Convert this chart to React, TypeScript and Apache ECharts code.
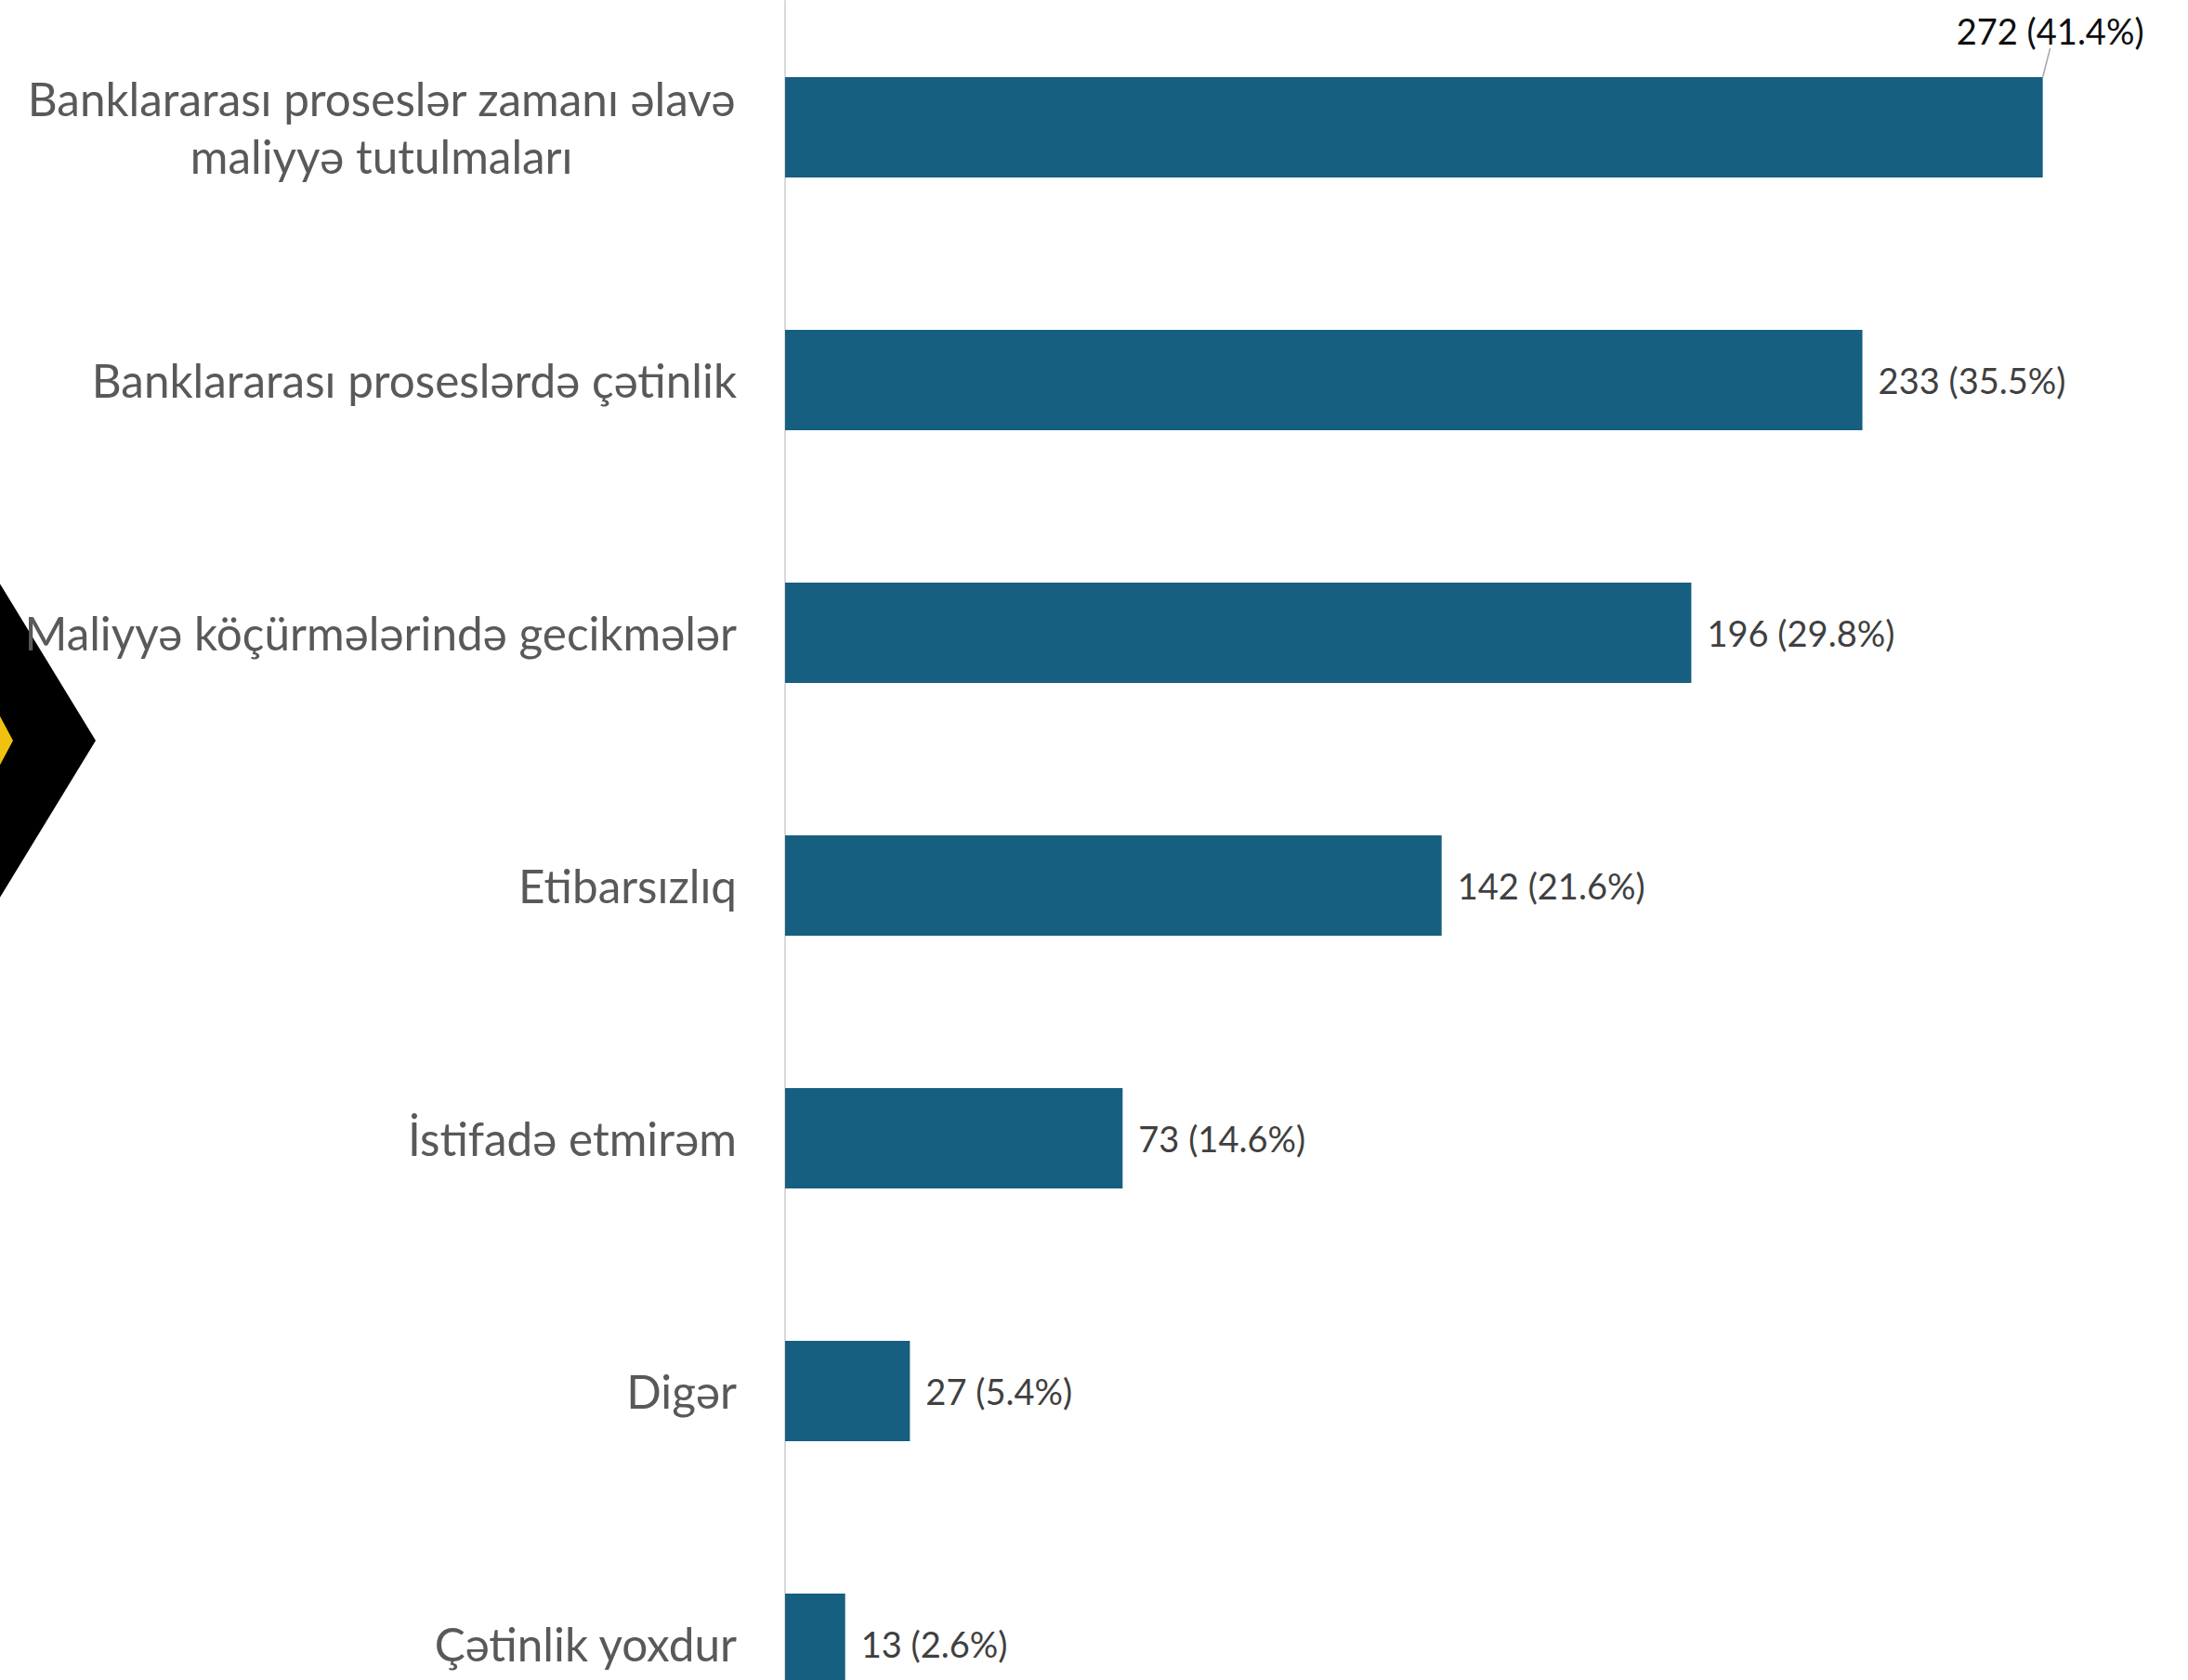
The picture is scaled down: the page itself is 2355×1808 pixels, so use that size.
import React, { useEffect, useRef } from "react";
import * as echarts from "echarts";

const categories: string[] = [
  "Banklararası proseslər zamanı əlavə\nmaliyyə tutulmaları",
  "Banklararası proseslərdə çətinlik",
  "Maliyyə köçürmələrində gecikmələr",
  "Etibarsızlıq",
  "İstifadə etmirəm",
  "Digər",
  "Çətinlik yoxdur",
];
const counts: number[] = [272, 233, 196, 142, 73, 27, 13];
const percents: number[] = [41.4, 35.5, 29.8, 21.6, 14.6, 5.4, 2.6];

const FONT = "Lato";

function measure(text: string, font: string): number {
  const ctx = document.createElement("canvas").getContext("2d");
  if (!ctx) return 100;
  ctx.font = font;
  return ctx.measureText(text).width;
}

export default function App() {
  const ref = useRef<HTMLDivElement>(null);
  useEffect(() => {
    document.body.style.margin = "0";
    document.body.style.overflow = "hidden";
    if (!ref.current) return;
    const chart = echarts.init(ref.current, undefined, { renderer: "svg" });

    const firstLine = categories[0].split("\n")[0];
    const catSize = (100 * 763) / measure(firstLine, `100px ${FONT}`);
    const valSize = (100 * 202) / measure("233 (35.5%)", `100px ${FONT}`);
    const blockWidth = measure(firstLine, `${catSize}px ${FONT}`) + 2;

    const data = counts.map((v, i) => {
      const item: any = { value: v };
      if (i === 0) {
        item.label = { color: "#0d0d0d" };
        item.labelLine = { show: true };
      }
      return item;
    });

    chart.setOption({
      animation: false,
      backgroundColor: "#ffffff",
      grid: { left: 845, top: 1, width: 1493, height: 1904, containLabel: false },
      xAxis: { type: "value", min: 0, max: 300, show: false },
      yAxis: {
        type: "category",
        inverse: true,
        data: categories,
        axisTick: { show: false },
        axisLine: { show: true, lineStyle: { color: "#d9d9d9", width: 2 } },
        axisLabel: {
          margin: 52,
          color: "#595959",
          fontFamily: FONT,
          fontSize: catSize,
          lineHeight: 62,
          formatter: (val: string) =>
            val.indexOf("\n") >= 0
              ? val
                  .split("\n")
                  .map((l) => `{c|${l}}`)
                  .join("\n")
              : val,
          rich: {
            c: {
              width: blockWidth,
              align: "center",
              color: "#595959",
              fontFamily: FONT,
              fontSize: catSize,
              lineHeight: 62,
            },
          },
        },
      },
      series: [
        {
          type: "bar",
          data,
          barWidth: 108,
          itemStyle: { color: "#175f80" },
          label: {
            show: true,
            position: "right",
            distance: 17,
            color: "#404040",
            fontFamily: FONT,
            fontSize: valSize,
            formatter: (p: any) => `${counts[p.dataIndex]} (${percents[p.dataIndex]}%)`,
          },
          labelLine: { show: false, lineStyle: { color: "#a6a6a6", width: 1.5 } },
          labelLayout: (p: any) => (p.dataIndex === 0 ? { dx: -110, dy: -104 } : {}),
        },
      ],
      graphic: [
        {
          type: "polygon",
          z: -10,
          shape: { points: [[-10, 612], [103, 797], [-10, 982]] },
          style: { fill: "#000000" },
        },
        {
          type: "polygon",
          z: -9,
          shape: { points: [[-10, 752], [14, 797], [-10, 842]] },
          style: { fill: "#f0c20f" },
        },
      ],
    });
    return () => chart.dispose();
  }, []);
  return (
    <div
      ref={ref}
      style={{ position: "fixed", left: 0, top: 0, width: 2355, height: 1910 }}
    />
  );
}
